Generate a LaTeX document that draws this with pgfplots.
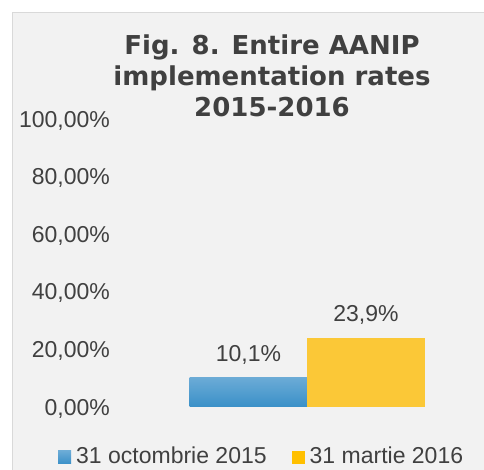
\documentclass[border=0pt]{standalone}
\usepackage{fontspec}
\setmainfont{Liberation Sans}
\newfontfamily\titlefont{DejaVu Sans}
\usepackage{pgfplots}
\pgfplotsset{compat=1.18}

\definecolor{bgc}{HTML}{F2F2F2}
\definecolor{framec}{HTML}{D9D9D9}
\definecolor{txt}{HTML}{404040}
\definecolor{bluetop}{HTML}{6BABD6}
\definecolor{bluebot}{HTML}{3A90C8}
\definecolor{yellowbar}{HTML}{FBC837}
\definecolor{yellowleg}{HTML}{FFC000}

\begin{document}
\begin{tikzpicture}
\useasboundingbox (0,0) rectangle (484pt,470pt);
\fill[white] (0,0) rectangle (484pt,470pt);
\fill[bgc] (12pt,0) rectangle (484pt,457pt);
\draw[framec, line width=1pt] (12pt,0) -- (12pt,457pt) -- (484pt,457pt);

% title, one node per line
\begin{scope}[every node/.style={anchor=base, inner sep=0pt, text=txt,
    font=\titlefont\bfseries\fontsize{26}{31}\selectfont}]
\node at (272pt,415pt) {Fig. 8. Entire AANIP};
\node at (272pt,384pt) {implementation rates};
\node at (272pt,353pt) {2015-2016};
\end{scope}

\begin{axis}[
    at={(115pt,63pt)},
    anchor=south west,
    scale only axis,
    width=355pt,
    height=288pt,
    xmin=-1.136, xmax=1.885,
    ymin=0, ymax=100,
    hide x axis,
    axis y line*=left,
    y axis line style={draw=none},
    ytick={0,20,40,60,80,100},
    yticklabels={{0,00\%},{20,00\%},{40,00\%},{60,00\%},{80,00\%},{100,00\%}},
    major tick length=0pt,
    yticklabel style={font=\fontsize{23}{26}\selectfont, text=txt,
        inner sep=0pt, anchor=east, xshift=-5pt, yshift=-1.5pt},
    ybar,
    bar width=1,
    bar shift=0pt,
    clip=false,
    point meta=explicit symbolic,
    nodes near coords,
    every node near coord/.append style={font=\fontsize{23}{26}\selectfont,
        text=txt, anchor=base, inner sep=0pt, yshift=16.5pt},
    legend columns=2,
    legend style={draw=none, fill=none, inner sep=0pt,
        at={(-0.1606,-0.202)}, anchor=south west,
        font=\fontsize{23}{26}\selectfont, text=txt,
        nodes={inner sep=0pt},
        /tikz/every even column/.append style={column sep=25pt}},
]
\addplot[draw=none, top color=bluetop, bottom color=bluebot,
    legend image code/.code={\fill[top color=bluetop, bottom color=bluebot]
        (0pt,-8pt) rectangle (13pt,5pt); \path (18pt,0pt);}]
    coordinates {(0,10.1) [{10,1\%}]};
\addlegendentry{31 octombrie 2015}
\addplot[draw=none, fill=yellowbar,
    legend image code/.code={\fill[yellowleg]
        (0pt,-8pt) rectangle (13pt,5pt); \path (18pt,0pt);}]
    coordinates {(1,23.9) [{23,9\%}]};
\addlegendentry{31 martie 2016}
\end{axis}
\end{tikzpicture}
\end{document}
